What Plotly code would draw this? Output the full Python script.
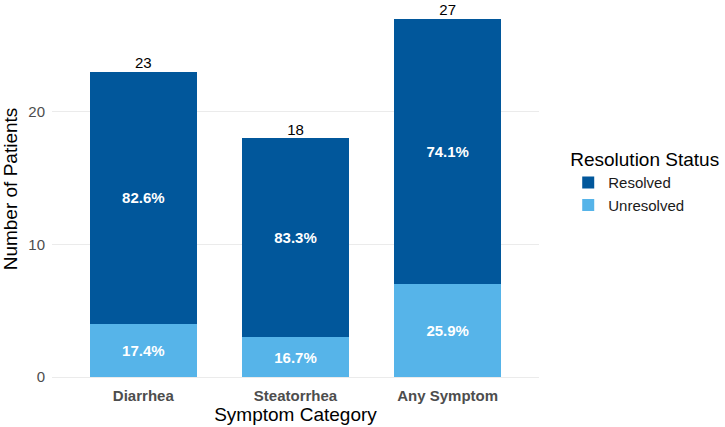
import plotly.graph_objects as go

categories = ["Diarrhea", "Steatorrhea", "Any Symptom"]
unresolved = [4, 3, 7]
resolved = [19, 15, 20]
totals = [u + r for u, r in zip(unresolved, resolved)]
pct_unres = [f"{100*u/t:.1f}%" for u, t in zip(unresolved, totals)]
pct_res = [f"{100*r/t:.1f}%" for r, t in zip(resolved, totals)]

DARK = "#01579B"
LIGHT = "#56B4E9"
FONT = "Liberation Sans, Arial, sans-serif"

fig = go.Figure()
fig.add_trace(go.Bar(
    x=categories, y=unresolved, name="Unresolved", marker_color=LIGHT,
    marker_line_width=0, text=pct_unres, textposition="inside",
    insidetextanchor="middle", textangle=0,
    textfont=dict(color="white", size=15, family=FONT, weight="bold"),
    width=0.7,
))
fig.add_trace(go.Bar(
    x=categories, y=resolved, name="Resolved", marker_color=DARK,
    marker_line_width=0, text=pct_res, textposition="inside",
    insidetextanchor="middle", textangle=0,
    textfont=dict(color="white", size=15, family=FONT, weight="bold"),
    width=0.7,
))
fig.add_trace(go.Scatter(
    x=categories, y=totals, mode="text", text=[str(t) for t in totals],
    textposition="top center", textfont=dict(color="black", size=15, family=FONT),
    showlegend=False, hoverinfo="skip", cliponaxis=False,
))

fig.update_layout(
    barmode="stack",
    width=725, height=427,
    margin=dict(l=52, r=186, t=1, b=50),
    paper_bgcolor="white", plot_bgcolor="white",
    font=dict(family=FONT, color="#4d4d4d"),
    legend=dict(
        title=dict(text="Resolution Status", font=dict(size=19, color="black", family=FONT)),
        traceorder="reversed",
        x=1.06, xanchor="left", y=0.52, yanchor="middle",
        font=dict(size=15, color="#1a1a1a", family=FONT),
        itemsizing="constant",
    ),
)
fig.update_xaxes(
    range=[-0.6, 2.6], showgrid=False, zeroline=False, showline=False, ticks="",
    ticklabelstandoff=8,
    tickfont=dict(size=15, color="#4d4d4d", family=FONT, weight="bold"),
    title=dict(text="Symptom Category", font=dict(size=19, color="black", family=FONT), standoff=2),
)
fig.update_yaxes(
    range=[0, 28.35], tickvals=[0, 10, 20], showgrid=True, gridcolor="#ebebeb",
    gridwidth=1.2, zeroline=True, zerolinecolor="#ebebeb", zerolinewidth=1.2,
    showline=False, ticks="", ticklabelstandoff=6,
    tickfont=dict(size=15, color="#4d4d4d", family=FONT),
    title=dict(text="Number of Patients", font=dict(size=19, color="black", family=FONT), standoff=6),
)

fig.write_html("out.html")
